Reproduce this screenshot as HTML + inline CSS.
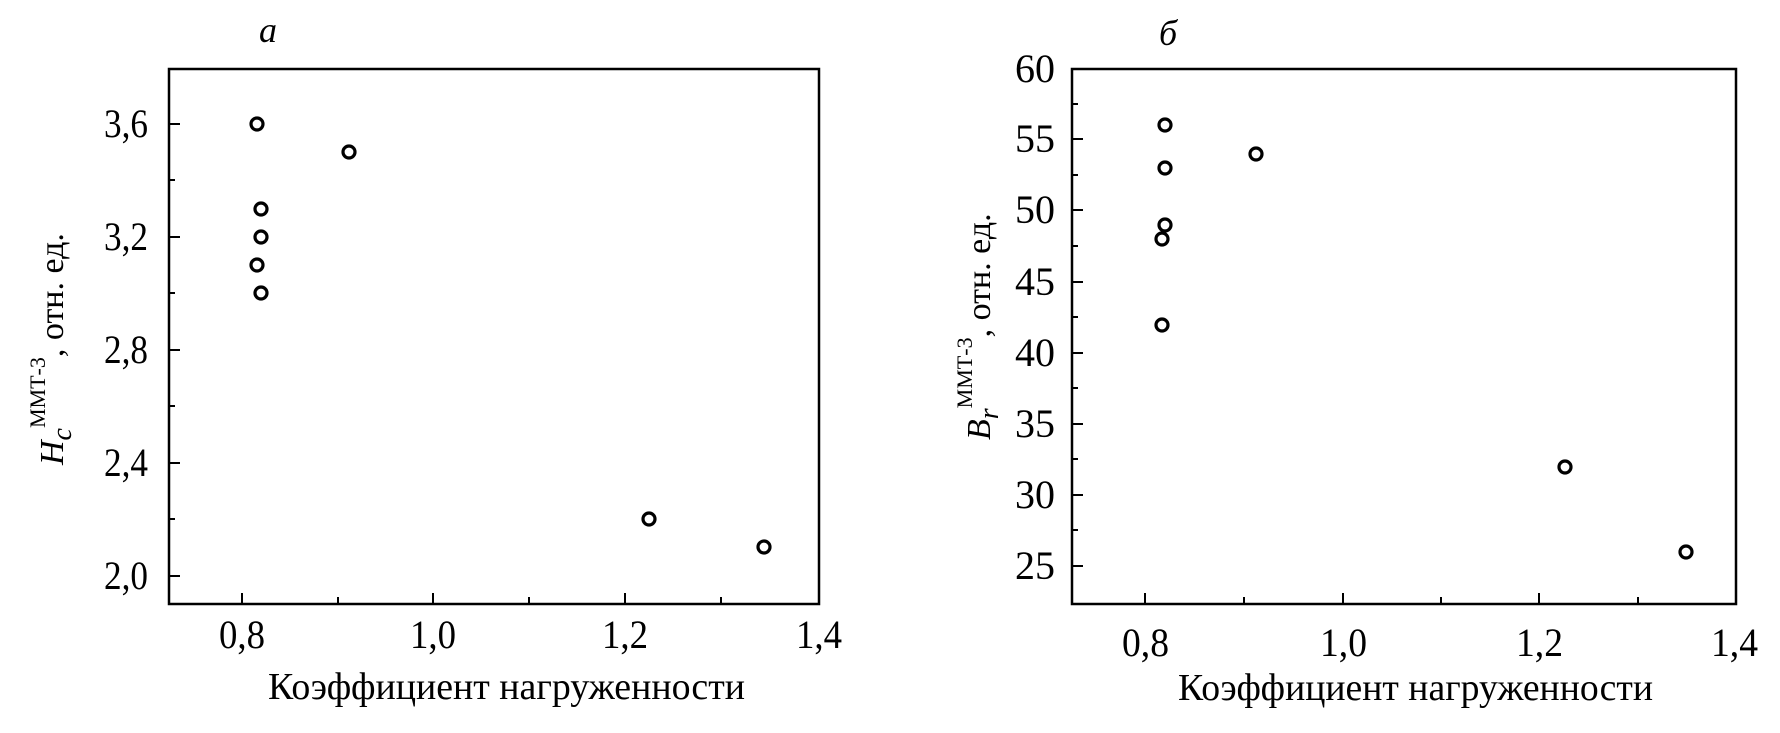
<!DOCTYPE html>
<html><head><meta charset="utf-8"><style>
html,body{margin:0;padding:0;background:#fff;}
svg{display:block;}
text{font-family:"Liberation Serif",serif;fill:#000;}
</style></head><body>
<svg width="1780" height="733" viewBox="0 0 1780 733" xmlns="http://www.w3.org/2000/svg">
<!-- LEFT -->
<text x="268" y="42" font-size="36" font-style="italic" text-anchor="middle">а</text>
<rect x="169" y="69" width="650" height="535" fill="none" stroke="#000" stroke-width="2.5"/>
<g stroke="#000" stroke-width="2">
<line x1="169" y1="124" x2="180" y2="124"/><line x1="169" y1="237" x2="180" y2="237"/>
<line x1="169" y1="350" x2="180" y2="350"/><line x1="169" y1="463" x2="180" y2="463"/>
<line x1="169" y1="576" x2="180" y2="576"/>
<line x1="169" y1="180" x2="175" y2="180"/><line x1="169" y1="293" x2="175" y2="293"/>
<line x1="169" y1="406" x2="175" y2="406"/><line x1="169" y1="519" x2="175" y2="519"/>
<line x1="242" y1="604" x2="242" y2="593"/><line x1="433" y1="604" x2="433" y2="593"/>
<line x1="625" y1="604" x2="625" y2="593"/>
<line x1="338" y1="604" x2="338" y2="597"/><line x1="529" y1="604" x2="529" y2="597"/>
<line x1="721" y1="604" x2="721" y2="597"/>
</g>
<g font-size="40" text-anchor="end">
<text x="148" y="137" textLength="44" lengthAdjust="spacingAndGlyphs">3,6</text>
<text x="148" y="250" textLength="44" lengthAdjust="spacingAndGlyphs">3,2</text>
<text x="148" y="363" textLength="44" lengthAdjust="spacingAndGlyphs">2,8</text>
<text x="148" y="476" textLength="44" lengthAdjust="spacingAndGlyphs">2,4</text>
<text x="148" y="589" textLength="44" lengthAdjust="spacingAndGlyphs">2,0</text>
</g>
<g font-size="40">
<text x="219" y="648" textLength="46" lengthAdjust="spacingAndGlyphs">0,8</text>
<text x="410" y="648" textLength="46" lengthAdjust="spacingAndGlyphs">1,0</text>
<text x="602" y="648" textLength="46" lengthAdjust="spacingAndGlyphs">1,2</text>
<text x="796" y="648" textLength="46" lengthAdjust="spacingAndGlyphs">1,4</text>
</g>
<text x="268" y="699" font-size="38" textLength="477" lengthAdjust="spacingAndGlyphs">Коэффициент нагруженности</text>
<text transform="translate(63,465) rotate(-90)" font-size="34"><tspan font-style="italic">H</tspan><tspan font-style="italic" font-size="28" dy="8">c</tspan><tspan font-size="22" dy="-26">ММТ-3</tspan><tspan dy="18">, отн. ед.</tspan></text>
<g fill="none" stroke="#000" stroke-width="3.2">
<circle cx="257" cy="124" r="6"/><circle cx="349" cy="152" r="6"/>
<circle cx="261" cy="209" r="6"/><circle cx="261" cy="237" r="6"/>
<circle cx="257" cy="265" r="6"/><circle cx="261" cy="293" r="6"/>
<circle cx="649" cy="519" r="6"/><circle cx="764" cy="547" r="6"/>
</g>
<!-- RIGHT -->
<text x="1168" y="45" font-size="36" font-style="italic" text-anchor="middle">б</text>
<rect x="1072" y="69" width="664" height="535" fill="none" stroke="#000" stroke-width="2.5"/>
<g stroke="#000" stroke-width="2">
<line x1="1072" y1="139" x2="1083" y2="139"/><line x1="1072" y1="210" x2="1083" y2="210"/>
<line x1="1072" y1="282" x2="1083" y2="282"/><line x1="1072" y1="353" x2="1083" y2="353"/>
<line x1="1072" y1="424" x2="1083" y2="424"/><line x1="1072" y1="495" x2="1083" y2="495"/>
<line x1="1072" y1="566" x2="1083" y2="566"/>
<line x1="1072" y1="104" x2="1078" y2="104"/><line x1="1072" y1="175" x2="1078" y2="175"/>
<line x1="1072" y1="246" x2="1078" y2="246"/><line x1="1072" y1="317" x2="1078" y2="317"/>
<line x1="1072" y1="388" x2="1078" y2="388"/><line x1="1072" y1="459" x2="1078" y2="459"/>
<line x1="1072" y1="530" x2="1078" y2="530"/>
<line x1="1145" y1="604" x2="1145" y2="593"/><line x1="1343" y1="604" x2="1343" y2="593"/>
<line x1="1539" y1="604" x2="1539" y2="593"/>
<line x1="1244" y1="604" x2="1244" y2="597"/><line x1="1441" y1="604" x2="1441" y2="597"/>
<line x1="1638" y1="604" x2="1638" y2="597"/>
</g>
<g font-size="40" text-anchor="end">
<text x="1055" y="82">60</text><text x="1055" y="152">55</text>
<text x="1055" y="223">50</text><text x="1055" y="295">45</text>
<text x="1055" y="366">40</text><text x="1055" y="437">35</text>
<text x="1055" y="508">30</text><text x="1055" y="579">25</text>
</g>
<g font-size="40">
<text x="1122" y="656" textLength="47" lengthAdjust="spacingAndGlyphs">0,8</text>
<text x="1320" y="656" textLength="47" lengthAdjust="spacingAndGlyphs">1,0</text>
<text x="1516" y="656" textLength="47" lengthAdjust="spacingAndGlyphs">1,2</text>
<text x="1711" y="656" textLength="47" lengthAdjust="spacingAndGlyphs">1,4</text>
</g>
<text x="1178" y="700" font-size="38" textLength="475" lengthAdjust="spacingAndGlyphs">Коэффициент нагруженности</text>
<text transform="translate(990,440) rotate(-90)" font-size="34"><tspan font-style="italic">B</tspan><tspan font-style="italic" font-size="28" dy="8">r</tspan><tspan font-size="22" dy="-26">ММТ-3</tspan><tspan dy="18">, отн. ед.</tspan></text>
<g fill="none" stroke="#000" stroke-width="3.2">
<circle cx="1165" cy="125" r="6"/><circle cx="1165" cy="168" r="6"/>
<circle cx="1165" cy="225" r="6"/><circle cx="1162" cy="239" r="6"/>
<circle cx="1162" cy="325" r="6"/><circle cx="1256" cy="154" r="6"/>
<circle cx="1565" cy="467" r="6"/><circle cx="1686" cy="552" r="6"/>
</g>
</svg>
</body></html>
